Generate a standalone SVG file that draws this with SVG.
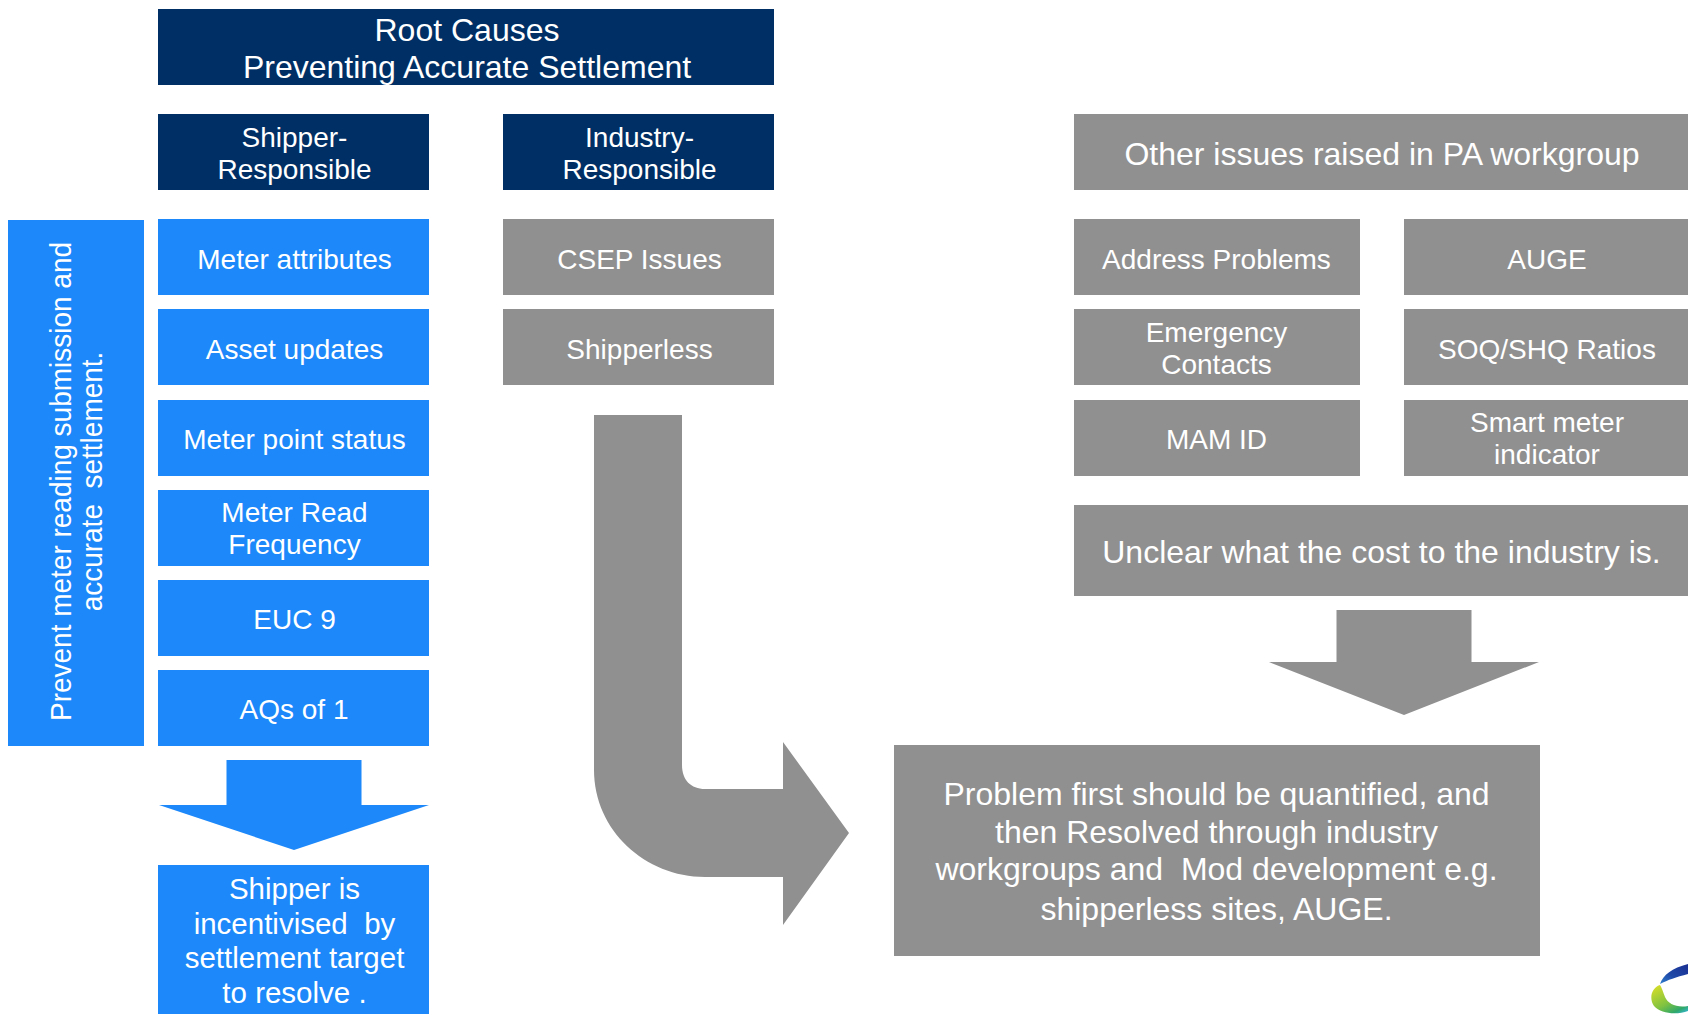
<svg xmlns="http://www.w3.org/2000/svg" width="1688" height="1014" viewBox="0 0 1688 1014">
<defs>
<linearGradient id="lg-blue" x1="0" y1="1" x2="1" y2="0"><stop offset="0" stop-color="#2f7fd0"/><stop offset="0.4" stop-color="#1f4aa8"/><stop offset="1" stop-color="#1a2f92"/></linearGradient>
<linearGradient id="lg-green" x1="0.2" y1="0" x2="0.9" y2="1"><stop offset="0" stop-color="#d2dc2a"/><stop offset="0.55" stop-color="#7fc241"/><stop offset="0.85" stop-color="#2fa86a"/><stop offset="1" stop-color="#35b4c8"/></linearGradient>
</defs>
<style>
text{font-family:"Liberation Sans",Arial,sans-serif;fill:#fff;text-anchor:middle;white-space:pre}
.t{font-size:28px}.m{font-size:29.5px}.l{font-size:32px}
.navy{fill:#002f65}.blue{fill:#1c88fa}.grey{fill:#909090}
</style>
<rect width="1688" height="1014" fill="#fff"/>
<g id="root-causes"><rect class="navy" x="158" y="9" width="616" height="76"/><text class="l" x="467" y="41">Root Causes</text><text class="l" x="467" y="78">Preventing Accurate Settlement</text></g>
<g id="shipper-responsible"><rect class="navy" x="158" y="114" width="271" height="76"/><text class="t" x="294.5" y="147">Shipper-</text><text class="t" x="294.5" y="179">Responsible</text></g>
<g id="industry-responsible"><rect class="navy" x="503" y="114" width="271" height="76"/><text class="t" x="639.5" y="147">Industry-</text><text class="t" x="639.5" y="179">Responsible</text></g>
<g id="prevent"><rect class="blue" x="8" y="220" width="136" height="526"/><text class="t" transform="translate(71 481.5) rotate(-90) scale(1 1.05)">Prevent meter reading submission and</text><text class="t" transform="translate(102 481.5) rotate(-90) scale(1 1.05)">accurate  settlement.</text></g>
<g id="meter-attributes"><rect class="blue" x="158" y="219" width="271" height="76"/><text class="t" x="294.5" y="268.5">Meter attributes</text></g>
<g id="asset-updates"><rect class="blue" x="158" y="309" width="271" height="76"/><text class="t" x="294.5" y="358.5">Asset updates</text></g>
<g id="meter-point-status"><rect class="blue" x="158" y="400" width="271" height="76"/><text class="t" x="294.5" y="449">Meter point status</text></g>
<g id="meter-read-frequency"><rect class="blue" x="158" y="490" width="271" height="76"/><text class="t" x="294.5" y="522">Meter Read</text><text class="t" x="294.5" y="554">Frequency</text></g>
<g id="euc-9"><rect class="blue" x="158" y="580" width="271" height="76"/><text class="t" x="294.5" y="629">EUC 9</text></g>
<g id="aqs-of-1"><rect class="blue" x="158" y="670" width="271" height="76"/><text class="t" x="294" y="719">AQs of 1</text></g>
<g id="shipper-incentivised"><rect class="blue" x="158" y="865" width="271" height="149"/><text class="m" x="294.5" y="899">Shipper is</text><text class="m" x="294.5" y="934">incentivised  by</text><text class="m" x="294.5" y="968">settlement target</text><text class="m" x="294.5" y="1003">to resolve .</text></g>
<g id="csep-issues"><rect class="grey" x="503" y="219" width="271" height="76"/><text class="t" x="639.5" y="268.5">CSEP Issues</text></g>
<g id="shipperless"><rect class="grey" x="503" y="309" width="271" height="76"/><text class="t" x="639.5" y="358.5">Shipperless</text></g>
<g id="other-issues"><rect class="grey" x="1074" y="114" width="614" height="76"/><text class="l" x="1382" y="165">Other issues raised in PA workgroup</text></g>
<g id="address-problems"><rect class="grey" x="1074" y="219" width="286" height="76"/><text class="t" x="1216.5" y="268.5">Address Problems</text></g>
<g id="auge"><rect class="grey" x="1404" y="219" width="284" height="76"/><text class="t" x="1547" y="268.5">AUGE</text></g>
<g id="emergency-contacts"><rect class="grey" x="1074" y="309" width="286" height="76"/><text class="t" x="1216.5" y="341.5">Emergency</text><text class="t" x="1216.5" y="373.5">Contacts</text></g>
<g id="soq-shq-ratios"><rect class="grey" x="1404" y="309" width="284" height="76"/><text class="t" x="1547" y="358.5">SOQ/SHQ Ratios</text></g>
<g id="mam-id"><rect class="grey" x="1074" y="400" width="286" height="76"/><text class="t" x="1216.5" y="449">MAM ID</text></g>
<g id="smart-meter-indicator"><rect class="grey" x="1404" y="400" width="284" height="76"/><text class="t" x="1547" y="432">Smart meter</text><text class="t" x="1547" y="464">indicator</text></g>
<g id="unclear-cost"><rect class="grey" x="1074" y="505" width="614" height="91"/><text class="l" x="1381.5" y="563">Unclear what the cost to the industry is.</text></g>
<g id="problem-first"><rect class="grey" x="894" y="745" width="646" height="211"/><text class="l" x="1216.5" y="805">Problem first should be quantified, and</text><text class="l" x="1216.5" y="843">then Resolved through industry</text><text class="l" x="1216.5" y="880">workgroups and  Mod development e.g.</text><text class="l" x="1216.5" y="920">shipperless sites, AUGE.</text></g>
<g id="connectors">
<path class="blue" d="M226.5 760H361.5V805H429L294 850L159 805H226.5Z"/>
<path class="grey" d="M1336.5 610H1471.5V662H1539L1404 715L1269 662H1336.5Z"/>
<path class="grey" d="M594 415H682V765C682 780 691 789 705 789H783V742L849 833L783 925V877H705C645 877 594 830 594 770Z"/>
</g>
<g id="logo">
<path fill="url(#lg-blue)" d="M1660 984C1663 975 1672 968 1688 964V974C1676 977 1668 980 1660 984Z"/>
<path fill="url(#lg-green)" d="M1660 985C1651 988 1649 999 1654 1006C1661 1014 1677 1015 1688 1011V1006C1677 1008 1668 1004 1665 997C1663 992 1662 988 1660 985Z"/>
</g>
</svg>
